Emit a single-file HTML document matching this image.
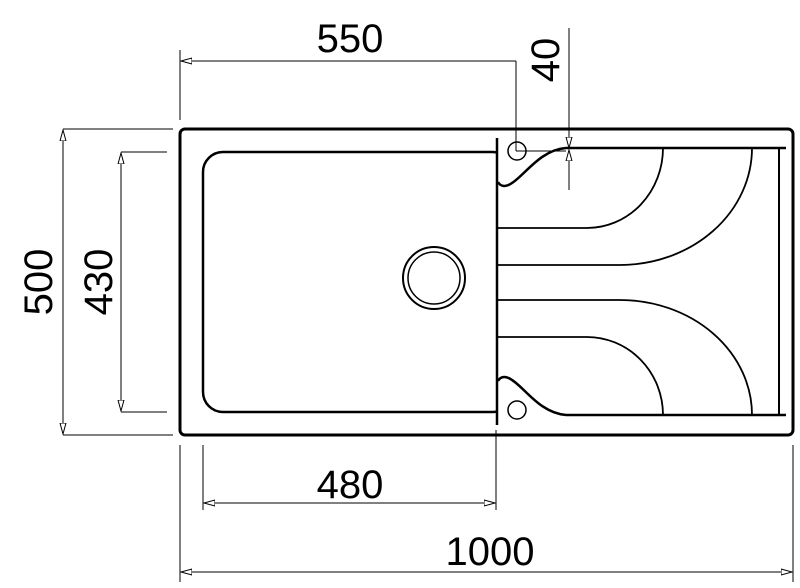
<!DOCTYPE html>
<html><head><style>body{margin:0;background:#fff}svg{display:block}</style></head><body>
<svg width="800" height="588" viewBox="0 0 800 588" xmlns="http://www.w3.org/2000/svg">
<defs>
<marker id="a" markerWidth="12" markerHeight="8" refX="11" refY="4" orient="auto" markerUnits="userSpaceOnUse"><path d="M0,1 L11,4 L0,7 Z" fill="#fff" stroke="#000" stroke-width="1"/></marker>
</defs>
<g fill="none" stroke="#000">
<rect x="180" y="129" width="613" height="306" rx="5" stroke-width="3"/>
<rect x="203" y="152" width="310" height="260" rx="20" stroke-width="2.5"/>
<rect x="496" y="140" width="22" height="290" fill="#fff" stroke="none"/>
<line x1="497" y1="138" x2="497" y2="425" stroke-width="2.5"/>
<line x1="566" y1="148" x2="786" y2="148" stroke-width="2.5"/>
<line x1="566" y1="415" x2="786" y2="415" stroke-width="2.5"/>
<line x1="779" y1="148" x2="779" y2="415" stroke-width="2"/>
<path d="M566,148 C540,150 525,175 512,183 C505,188 500,186 498,182" stroke-width="2.5"/>
<path d="M566,415 C540,413 525,388 512,380 C505,375 500,377 498,381" stroke-width="2.5"/>
<circle cx="517" cy="151" r="9" stroke-width="1.5"/>
<circle cx="517" cy="410" r="9" stroke-width="1.5"/>
<circle cx="434" cy="278" r="31" stroke-width="2"/>
<circle cx="434" cy="278" r="26" stroke-width="1.5"/>
<g stroke-width="1.8">
<path d="M498,228 H587 A76,80 0 0 0 663,148"/>
<path d="M498,265 H620 A132,117 0 0 0 752,148"/>
<path d="M498,300 H620 A132,115 0 0 1 752,415"/>
<path d="M498,337 H587 A76,78 0 0 1 663,415"/>
</g>
<g stroke-width="1">
<line x1="180" y1="50" x2="180" y2="120"/>
<line x1="516" y1="61" x2="516" y2="151"/>
<line x1="516" y1="151" x2="566" y2="151"/>
<line x1="516" y1="61" x2="181" y2="61" marker-end="url(#a)"/>
<line x1="569" y1="28" x2="569" y2="148" marker-end="url(#a)"/>
<line x1="569" y1="190" x2="569" y2="150" marker-end="url(#a)"/>
<line x1="63" y1="129" x2="173" y2="129"/>
<line x1="63" y1="435" x2="173" y2="435"/>
<line x1="63" y1="282" x2="63" y2="130" marker-end="url(#a)"/>
<line x1="63" y1="282" x2="63" y2="434" marker-end="url(#a)"/>
<line x1="121" y1="152" x2="167" y2="152"/>
<line x1="121" y1="412" x2="167" y2="412"/>
<line x1="121" y1="282" x2="121" y2="153" marker-end="url(#a)"/>
<line x1="121" y1="282" x2="121" y2="411" marker-end="url(#a)"/>
<line x1="203" y1="445" x2="203" y2="510"/>
<line x1="496" y1="430" x2="496" y2="510"/>
<line x1="350" y1="503" x2="204" y2="503" marker-end="url(#a)"/>
<line x1="350" y1="503" x2="495" y2="503" marker-end="url(#a)"/>
<line x1="180" y1="445" x2="180" y2="582"/>
<line x1="793" y1="445" x2="793" y2="582"/>
<line x1="486" y1="572" x2="181" y2="572" marker-end="url(#a)"/>
<line x1="486" y1="572" x2="792" y2="572" marker-end="url(#a)"/>
</g>
</g>
<g font-family="Liberation Sans, sans-serif" font-size="40" fill="#000" text-anchor="middle">
<text x="350" y="52">550</text>
<text x="350" y="498">480</text>
<text x="490" y="565">1000</text>
<text transform="translate(559,60) rotate(-90)">40</text>
<text transform="translate(52,282) rotate(-90)">500</text>
<text transform="translate(112,282) rotate(-90)">430</text>
</g>
</svg>
</body></html>
